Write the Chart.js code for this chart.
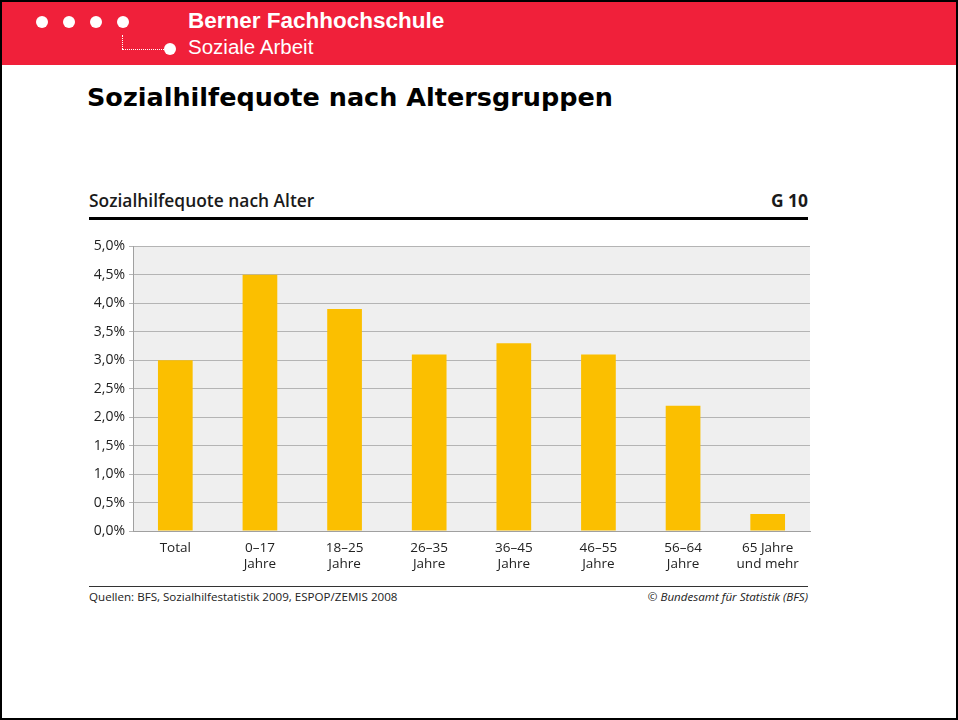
<!DOCTYPE html>
<html>
<head>
<meta charset="utf-8">
<script src="https://cdn.jsdelivr.net/npm/chart.js@4"></script>
<style>
  html, body { margin: 0; padding: 0; background: #fff; }
  #page { position: relative; width: 954px; height: 716px; border: 2px solid #000; overflow: hidden; font-family: "Open Sans", sans-serif; }
  #header { position: absolute; left: 0; top: 0; width: 954px; height: 63px; background: #f0203a; }
  .dot { position: absolute; width: 12px; height: 12px; border-radius: 50%; background: #fff; }
  #brand1 { position: absolute; left: 186px; top: 6px; color: #fff; font: bold 22.5px "Liberation Sans", Arial, sans-serif; }
  #brand2 { position: absolute; left: 186px; top: 33px; color: #fff; font: 20.5px "Liberation Sans", Arial, sans-serif; }
  #vline { position: absolute; left: 120px; top: 33px; height: 14px; border-left: 1px dotted #fff; }
  #hline { position: absolute; left: 120px; top: 47px; width: 42px; border-top: 1px dotted #fff; }
  #mainTitle { position: absolute; left: 85px; top: 80px; font: bold 25.5px "DejaVu Sans", sans-serif; color: #000; }
  #chartTitle { position: absolute; left: 87px; top: 186px; font: 600 17.4px "Open Sans", sans-serif; color: #1a1a1a; }
  #chartNo { position: absolute; right: 148px; top: 186px; font: bold 17.4px "Open Sans", sans-serif; color: #1a1a1a; }
  #titleRule { position: absolute; left: 87px; top: 215px; width: 719px; height: 3px; background: #000; }
  #footRule { position: absolute; left: 87px; top: 584px; width: 719px; height: 1px; background: #333; }
  #source { position: absolute; left: 87px; top: 587px; font: 11.6px "Open Sans", sans-serif; color: #222; }
  #copy { position: absolute; right: 148px; top: 587px; font: italic 11.6px "Open Sans", sans-serif; color: #222; }
  #chartBox { position: absolute; left: 78px; top: 232px; width: 740px; height: 340px; }
</style>
</head>
<body>
<div id="page">
  <div id="header">
    <div class="dot" style="left:34px;top:14px"></div>
    <div class="dot" style="left:61px;top:14px"></div>
    <div class="dot" style="left:88px;top:14px"></div>
    <div class="dot" style="left:115px;top:14px"></div>
    <div id="vline"></div>
    <div id="hline"></div>
    <div class="dot" style="left:162px;top:41px"></div>
    <div id="brand1">Berner Fachhochschule</div>
    <div id="brand2">Soziale Arbeit</div>
  </div>
  <div id="mainTitle">Sozialhilfequote nach Altersgruppen</div>
  <div id="chartTitle">Sozialhilfequote nach Alter</div>
  <div id="chartNo">G 10</div>
  <div id="titleRule"></div>
  <div id="chartBox"><canvas id="chart"></canvas></div>
  <div id="footRule"></div>
  <div id="source">Quellen: BFS, Sozialhilfestatistik 2009, ESPOP/ZEMIS 2008</div>
  <div id="copy">© Bundesamt für Statistik (BFS)</div>
</div>
<script>
// Altersgruppen und Quoten (in %)
const categories = [
  'Total',
  ['0–17', 'Jahre'],
  ['18–25', 'Jahre'],
  ['26–35', 'Jahre'],
  ['36–45', 'Jahre'],
  ['46–55', 'Jahre'],
  ['56–64', 'Jahre'],
  ['65 Jahre', 'und mehr']
];
const quote = [3.0, 4.5, 3.9, 3.1, 3.3, 3.1, 2.2, 0.3];

// Hintergrund der Plotfläche
const plotBackground = {
  id: 'plotBackground',
  beforeDraw(chart) {
    const { ctx, chartArea: a } = chart;
    ctx.save();
    ctx.fillStyle = '#efefef';
    ctx.fillRect(a.left, a.top, a.right - a.left, a.bottom - a.top);
    ctx.restore();
  }
};

new Chart(document.getElementById('chart'), {
  type: 'bar',
  data: {
    labels: categories,
    datasets: [{
      data: quote,
      backgroundColor: '#fbbf00',
      borderWidth: 0,
      categoryPercentage: 1,
      barPercentage: 0.41
    }]
  },
  options: {
    responsive: true,
    maintainAspectRatio: false,
    animation: false,
    layout: { padding: { top: 12, right: 10, bottom: 0, left: 0 } },
    plugins: { legend: { display: false }, tooltip: { enabled: false } },
    scales: {
      x: {
        grid: { display: false },
        border: { color: '#a0a0a0' },
        ticks: { color: '#222', font: { family: 'Open Sans', size: 13.5 }, padding: 1, maxRotation: 0, autoSkip: false },
        afterFit(scale) { scale.height = 43; }
      },
      y: {
        min: 0,
        max: 5,
        ticks: {
          stepSize: 0.5,
          color: '#222',
          padding: 4,
          font: { family: 'Open Sans', size: 14 },
          callback: v => v.toFixed(1).replace('.', ',') + '%'
        },
        grid: { color: '#b4b4b4', tickLength: 4, drawTicks: true },
        border: { color: '#a0a0a0' },
        afterFit(scale) { scale.width = 53; }
      }
    }
  },
  plugins: [plotBackground]
});
</script>
</body>
</html>
